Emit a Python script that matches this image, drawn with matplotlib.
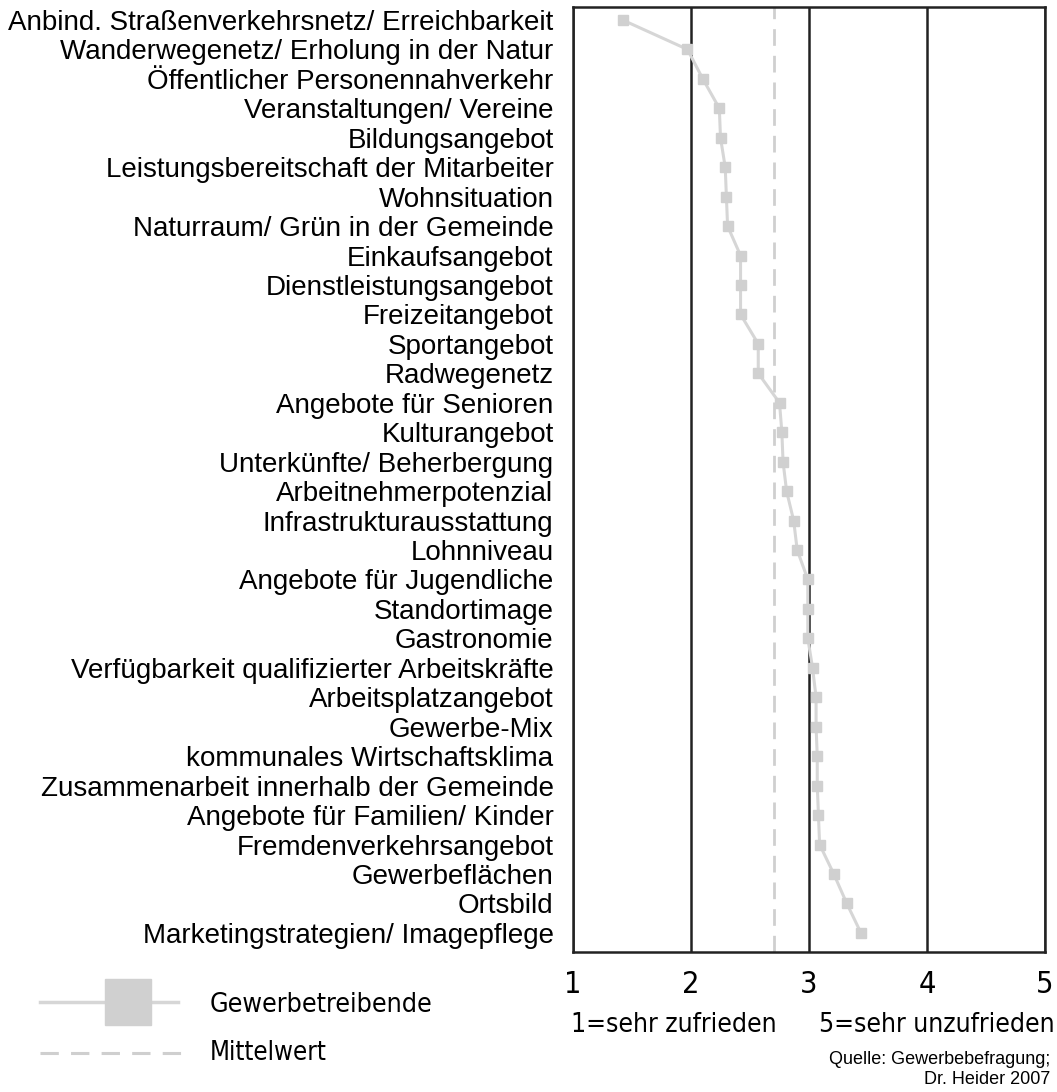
import matplotlib
matplotlib.use("Agg")
import matplotlib.pyplot as plt
from matplotlib.lines import Line2D
from matplotlib import font_manager
from matplotlib.font_manager import FontProperties

categories = [
    "Anbind. Straßenverkehrsnetz/ Erreichbarkeit",
    "Wanderwegenetz/ Erholung in der Natur",
    "Öffentlicher Personennahverkehr",
    "Veranstaltungen/ Vereine",
    "Bildungsangebot",
    "Leistungsbereitschaft der Mitarbeiter",
    "Wohnsituation",
    "Naturraum/ Grün in der Gemeinde",
    "Einkaufsangebot",
    "Dienstleistungsangebot",
    "Freizeitangebot",
    "Sportangebot",
    "Radwegenetz",
    "Angebote für Senioren",
    "Kulturangebot",
    "Unterkünfte/ Beherbergung",
    "Arbeitnehmerpotenzial",
    "Infrastrukturausstattung",
    "Lohnniveau",
    "Angebote für Jugendliche",
    "Standortimage",
    "Gastronomie",
    "Verfügbarkeit qualifizierter Arbeitskräfte",
    "Arbeitsplatzangebot",
    "Gewerbe-Mix",
    "kommunales Wirtschaftsklima",
    "Zusammenarbeit innerhalb der Gemeinde",
    "Angebote für Familien/ Kinder",
    "Fremdenverkehrsangebot",
    "Gewerbeflächen",
    "Ortsbild",
    "Marketingstrategien/ Imagepflege",
]
values = [1.42, 1.97, 2.10, 2.24, 2.25, 2.29, 2.30, 2.31, 2.42, 2.42, 2.42,
          2.57, 2.57, 2.75, 2.77, 2.78, 2.81, 2.87, 2.90, 2.99, 2.99, 2.99,
          3.03, 3.06, 3.06, 3.07, 3.07, 3.08, 3.09, 3.21, 3.32, 3.44]
mean_value = 2.70
x_ticks = [1, 2, 3, 4, 5]

# find a condensed sans font if any is installed
narrow_file = None
cands = []
for f in font_manager.fontManager.ttflist:
    nm = f.name
    st = str(f.stretch)
    if f.style != "normal" or f.weight not in (400, "normal", "regular"):
        continue
    if "Mono" in nm or "Serif" in nm:
        continue
    if "Narrow" in nm or "Condensed" in nm or st in ("condensed", "semi-condensed", "extra-condensed") \
            or "Condensed" in f.fname or "Narrow" in f.fname:
        cands.append(f)
if cands:
    cands.sort(key=lambda f: (0 if "Liberation" in f.name else 1 if "DejaVu" in f.name else 2))
    narrow_file = cands[0].fname

def nprop(size):
    if narrow_file:
        return FontProperties(fname=narrow_file, size=size)
    return FontProperties(family="Liberation Sans", size=size * 0.9)

reg = "Liberation Sans"

fig = plt.figure(figsize=(10.57, 10.92), dpi=100)
ax = fig.add_axes([573/1057, 1-952/1092, (1045-573)/1057, (952-7)/1092])

ypos = list(range(len(categories)))
gray = "#d0d0d0"
ax.plot(values, ypos, color="#d6d6d6", lw=2.2, marker="s", ms=7.5,
        mfc=gray, mec=gray, zorder=3)
ax.axvline(mean_value, color="#cfcfcf", lw=2.0, dashes=(6, 3.6), zorder=2)

ax.set_xlim(1, 5)
ax.set_ylim(31.65, -0.44)
ax.set_xticks(x_ticks)
ax.set_xticklabels([str(t) for t in x_ticks])
for lbl in ax.get_xticklabels():
    lbl.set_fontproperties(nprop(22))
ax.set_yticks(ypos)
ax.set_yticklabels(categories, fontfamily=reg, fontsize=20)
ax.tick_params(axis="both", length=0)
ax.tick_params(axis="x", pad=13)
ax.tick_params(axis="y", pad=14)
ax.xaxis.grid(True, color="#222222", lw=1.8)
ax.set_axisbelow(True)
for s in ax.spines.values():
    s.set_linewidth(1.8)
    s.set_color("#222222")

fig.text(571/1057, 1-1025/1092, "1=sehr zufrieden", fontproperties=nprop(19),
         ha="left", va="center")
fig.text(1055/1057, 1-1025/1092, "5=sehr unzufrieden", fontproperties=nprop(19),
         ha="right", va="center")
fig.text(1050/1057, 1-1059/1092, "Quelle: Gewerbebefragung;", fontfamily=reg,
         fontsize=13, ha="right", va="center")
fig.text(1050/1057, 1-1080/1092, "Dr. Heider 2007", fontfamily=reg,
         fontsize=13, ha="right", va="center")

# legend
fig.add_artist(Line2D([40/1057, 178/1057], [1-1002/1092]*2, color="#d6d6d6", lw=2.5))
fig.add_artist(Line2D([128/1057], [1-1002/1092], marker="s", ms=33, mfc=gray, mec=gray, lw=0))
fig.text(210/1057, 1-1005/1092, "Gewerbetreibende", fontproperties=nprop(19.3),
         ha="left", va="center")
fig.add_artist(Line2D([40/1057, 185/1057], [1-1053/1092]*2, color="#cfcfcf", lw=2.2,
                      dashes=(6, 4)))
fig.text(210/1057, 1-1053/1092, "Mittelwert", fontproperties=nprop(18.5),
         ha="left", va="center")

fig.savefig("out.png", dpi=100)
